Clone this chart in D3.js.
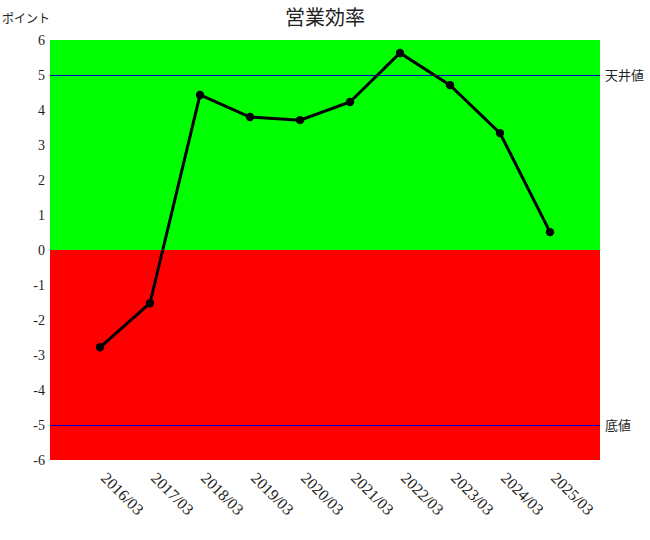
<!DOCTYPE html>
<html><head><meta charset="utf-8">
<script src="https://cdn.jsdelivr.net/npm/d3@7"></script>
<style>body{margin:0;background:#fff} .sf{font-family:"Times New Roman","Liberation Serif","DejaVu Serif",serif}</style>
</head><body>
<svg id="c" width="650" height="540"></svg>
<script>
const categories = ["2016/03","2017/03","2018/03","2019/03","2020/03","2021/03","2022/03","2023/03","2024/03","2025/03"];
const values = [-2.78,-1.52,4.43,3.8,3.71,4.23,5.63,4.71,3.34,0.51];
const yTicks = [6,5,4,3,2,1,0,-1,-2,-3,-4,-5,-6];
const ceilingValue = 5, floorValue = -5;
const title = "営業効率", yLabel = "ポイント", ceilLabel = "天井値", floorLabel = "底値";

const svg = d3.select("#c");
const L=50,R=600,T=40,B=460;
const x = d3.scaleLinear().domain([0, categories.length+1]).range([L,R]);
const y = d3.scaleLinear().domain([-6,6]).range([B,T]);
const cjk = "'Noto Sans CJK JP',sans-serif";

svg.append("rect").attr("x",L).attr("y",y(6)).attr("width",R-L).attr("height",y(0)-y(6)).attr("fill","#00ff00");
svg.append("rect").attr("x",L).attr("y",y(0)).attr("width",R-L).attr("height",y(-6)-y(0)).attr("fill","#ff0000");

[[ceilingValue,ceilLabel],[floorValue,floorLabel]].forEach(([v,l])=>{
  svg.append("line").attr("x1",L).attr("x2",R).attr("y1",y(v)).attr("y2",y(v)).attr("stroke","#0000cc").attr("stroke-width",1).attr("shape-rendering","crispEdges");
  svg.append("text").attr("x",R+5).attr("y",y(v)).attr("dy","0.35em").attr("font-family",cjk).attr("font-size",13).attr("fill","#222").text(l);
});

svg.selectAll(".yt").data(yTicks).enter().append("text").attr("class","sf")
  .attr("x",45).attr("y",d=>y(d)).attr("dy","0.35em").attr("text-anchor","end")
  .attr("font-size",14).attr("fill","#222").text(d=>d);

svg.selectAll(".xt").data(categories).enter().append("text").attr("class","sf")
  .attr("transform",(d,i)=>`translate(${x(i+1)},${B+19}) rotate(45)`)
  .attr("font-size",16).attr("fill","#222").text(d=>d);

const line = d3.line().x((d,i)=>x(i+1)).y(d=>y(d));
svg.append("path").datum(values).attr("d",line).attr("fill","none").attr("stroke","#000").attr("stroke-width",3);
svg.selectAll(".pt").data(values).enter().append("circle")
  .attr("cx",(d,i)=>x(i+1)).attr("cy",d=>y(d)).attr("r",4.2).attr("fill","#000");

svg.append("text").attr("x",325).attr("y",25).attr("text-anchor","middle").attr("font-family",cjk).attr("font-size",20).attr("fill","#222").text(title);
svg.append("text").attr("x",2).attr("y",23).attr("font-family",cjk).attr("font-size",12).attr("fill","#222").text(yLabel);
</script>
</body></html>
